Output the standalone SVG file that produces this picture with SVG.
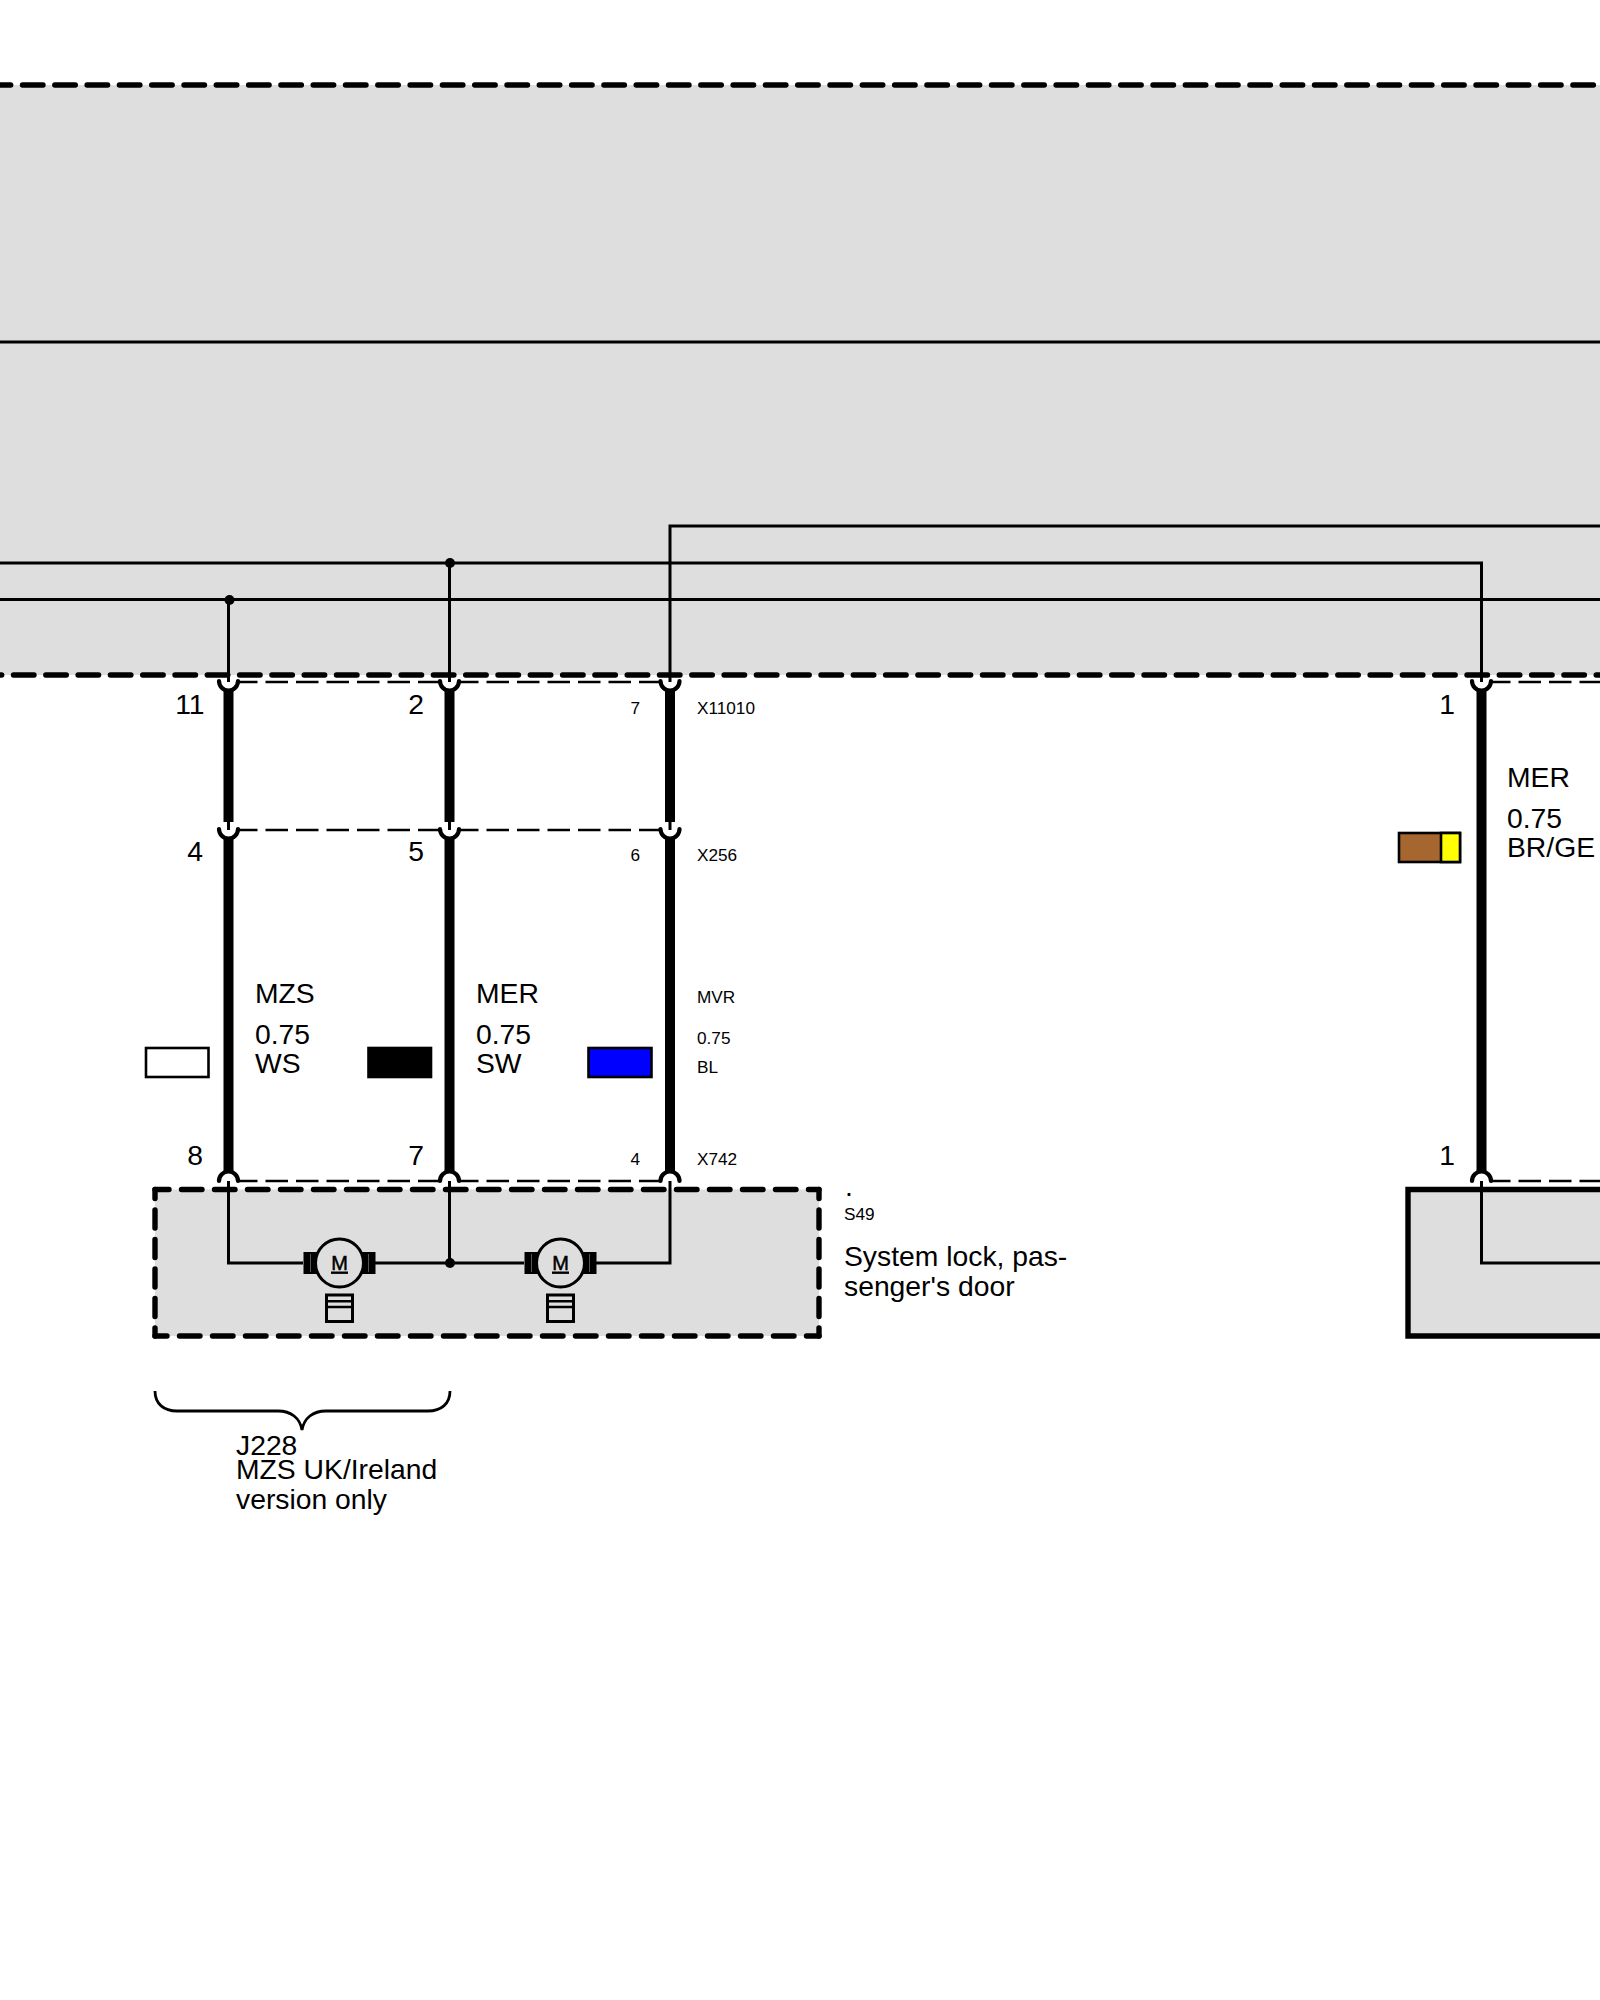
<svg xmlns="http://www.w3.org/2000/svg" width="1600" height="2000" viewBox="0 0 1600 2000">
<style>
text{font-family:"Liberation Sans",Arial,sans-serif;font-size:28.3px;fill:#000}
.s{font-size:17.2px}
.r{text-anchor:end}
.t{fill:none;stroke:#000;stroke-width:3}
.w{fill:none;stroke:#000;stroke-width:10}
.pin{fill:none;stroke:#000;stroke-width:4.2;stroke-linecap:round}
.d{fill:none;stroke:#000;stroke-width:2.6;stroke-dasharray:22.5 8;stroke-dashoffset:3}
.bd{fill:none;stroke:#000;stroke-width:5.4;stroke-linecap:round}
.long{stroke-dasharray:20.5 11.8}
.h{stroke-dasharray:20.5 12.5}
.v{stroke-dasharray:18 11.5;stroke-dashoffset:9}
.sw{stroke:#000;stroke-width:2.6}
.g{fill:#dedede}
</style>
<defs>
<g id="motor">
<rect x="-36" y="-11" width="72" height="22" fill="#000"/>
<path d="M-29-9V9M29-9V9" stroke="#555" stroke-width="1"/>
<circle r="24" fill="#dedede" stroke="#000" stroke-width="3"/>
<text y="6.500" text-anchor="middle" style="font-size:20px;stroke:#000;stroke-width:.5">M</text>
<path d="M-8.500 9.700H8.500" stroke="#000" stroke-width="2.400"/>
<rect x="-13" y="32" width="26" height="26.500" fill="#dedede" stroke="#000" stroke-width="3"/>
<path d="M-13 38.300H13M-13 44H13" stroke="#000" stroke-width="2.500"/>
</g>
<path id="capTop" d="M-9.500 681A9.500 9.500 0 0 0 9.500 681" class="pin"/>
<path id="capBot" d="M-9.500 1181A9.500 9.500 0 0 1 9.500 1181" class="pin"/>
</defs>

<g id="panel-top">
<rect class="g" x="0" y="85" width="1600" height="590"/>
<path class="bd long" stroke-dashoffset="9.800" d="M0 85H1600"/>
<path class="bd long" stroke-dashoffset="18.800" d="M0 675H1600"/>
</g>

<g id="component-s49">
<rect class="g" x="155" y="1189.500" width="664" height="146.500"/>
<path class="bd h" stroke-dashoffset="6.500" d="M155 1189.500H819"/>
<path class="bd h" stroke-dashoffset="8.500" d="M155 1336H819"/>
<path class="bd v" d="M155 1189.500V1336"/>
<path class="bd v" d="M819 1189.500V1336"/>
</g>
<g id="component-right">
<path class="g" d="M1408 1189.500H1600V1336H1408Z"/>
<path d="M1600 1189.500H1408V1336H1600" fill="none" stroke="#000" stroke-width="5.400"/>
</g>

<g id="connectors">
<path class="t" d="M0 342H1600"/>
<path class="t" d="M670 682V526H1600"/>
<path class="t" d="M0 563H1481.500V682"/>
<path class="t" d="M0 599.500H1600"/>
<path class="t" d="M228.500 599.500V682"/>
<path class="t" d="M449.500 563V682"/>
<path class="t" d="M228.500 1181V1263H303M375 1263H524M596 1263H670V1181"/>
<path class="t" d="M449.500 1181V1263"/>
<path class="t" d="M1481.500 1181V1263H1600"/>
<path class="d" d="M238 682H440M459 682H661"/>
<path class="d" d="M1491 682H1600"/>
<path class="d" d="M238 830H440M459 830H661"/>
<path class="d" d="M238 1181H440M459 1181H661"/>
<path class="d" d="M1491 1181H1600"/>
<g>
<path class="w" d="M228.500 690V822M228.500 838V1171"/>
<path class="w" d="M449.500 690V822M449.500 838V1171"/>
<path class="w" d="M670 690V822M670 838V1171"/>
<path class="w" d="M1481.500 690V1171"/>
<path class="t" d="M228.500 822V830M449.500 822V830M670 822V830"/>
<use href="#capTop" x="228.500"/><use href="#capTop" x="449.500"/><use href="#capTop" x="670"/><use href="#capTop" x="1481.500"/>
<use href="#capTop" x="228.500" y="148"/><use href="#capTop" x="449.500" y="148"/><use href="#capTop" x="670" y="148"/>
<use href="#capBot" x="228.500"/><use href="#capBot" x="449.500"/><use href="#capBot" x="670"/><use href="#capBot" x="1481.500"/>
</g>
<circle cx="229.500" cy="600" r="5"/>
<circle cx="450" cy="563" r="5"/>
<circle cx="450" cy="1263" r="5"/>
</g>

<g id="labels-pins">
<text class="r" x="204.500" y="714">11</text>
<text class="r" x="424" y="714">2</text>
<text class="s r" x="640" y="714">7</text>
<text class="s" x="697" y="714">X11010</text>
<text class="r" x="1455" y="714">1</text>
<text class="r" x="203" y="861">4</text>
<text class="r" x="424" y="861">5</text>
<text class="s r" x="640" y="861">6</text>
<text class="s" x="697" y="861">X256</text>
<text class="r" x="203" y="1165">8</text>
<text class="r" x="424" y="1165">7</text>
<text class="s r" x="640" y="1165">4</text>
<text class="s" x="697" y="1165">X742</text>
<text class="r" x="1455" y="1165">1</text>
</g>

<g id="wire-mzs">
<text x="255" y="1003">MZS</text><text x="255" y="1044">0.75</text><text x="255" y="1073">WS</text>
<rect class="sw" x="146" y="1048" width="62.500" height="29" fill="#fff"/>
</g>
<g id="wire-mer">
<text x="476" y="1003">MER</text><text x="476" y="1044">0.75</text><text x="476" y="1073">SW</text>
<rect class="sw" x="368.500" y="1048" width="62.500" height="29" fill="#000"/>
</g>
<g id="wire-mvr">
<text class="s" x="697" y="1003">MVR</text><text class="s" x="697" y="1044">0.75</text><text class="s" x="697" y="1073">BL</text>
<rect class="sw" x="588.500" y="1048" width="63" height="29" fill="#0000ff"/>
</g>
<g id="wire-mer-right">
<text x="1507" y="787">MER</text><text x="1507" y="828">0.75</text><text x="1507" y="857">BR/GE</text>
<rect class="sw" x="1399" y="833" width="61" height="29" fill="#a5672f"/>
<rect class="sw" x="1441" y="833" width="19" height="29" fill="#ffff00"/>
</g>

<g id="motor-1"><use href="#motor" x="339.500" y="1263"/></g>
<g id="motor-2"><use href="#motor" x="560.500" y="1263"/></g>

<g id="label-s49">
<text x="845" y="1196">.</text>
<text class="s" x="844" y="1220">S49</text>
<text x="844" y="1266">System lock, pas-</text>
<text x="844" y="1296">senger's door</text>
</g>

<g id="brace-j228">
<path fill="none" stroke="#000" stroke-width="2.800" d="M155 1391C155 1404 164 1411 177 1411H278C291 1411 300 1418 302 1430C304 1418 313 1411 326 1411H428C441 1411 450 1404 450 1391"/>
<text x="236" y="1455">J228</text>
<text x="236" y="1479">MZS UK/Ireland</text>
<text x="236" y="1509">version only</text>
</g>
</svg>
